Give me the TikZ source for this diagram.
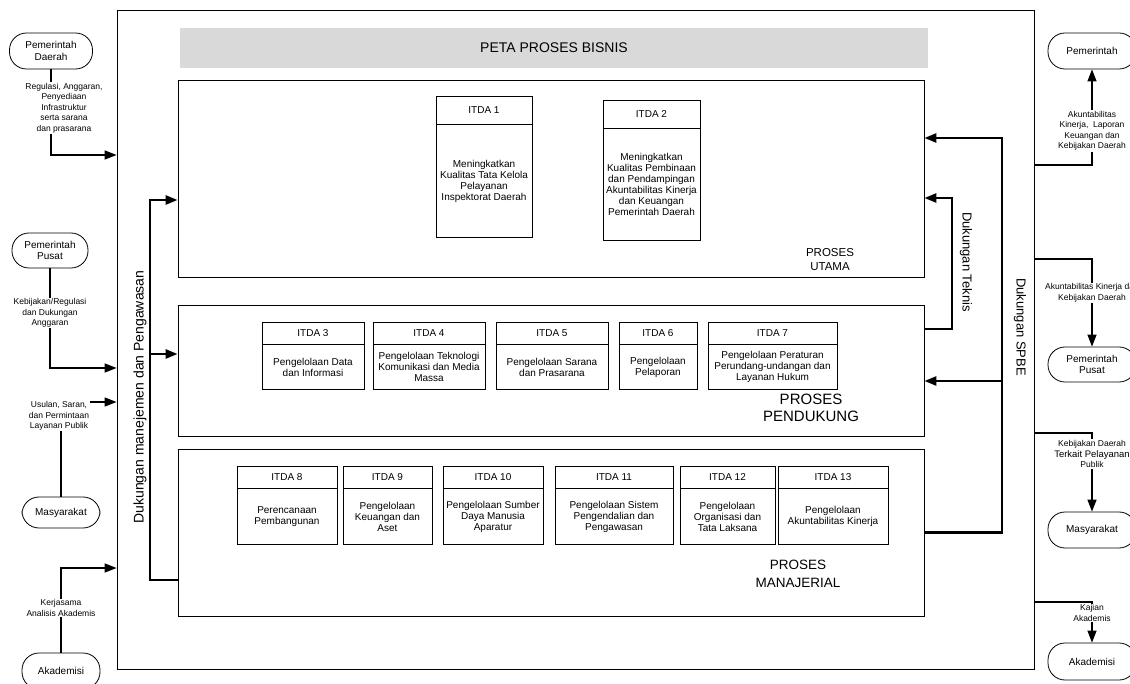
\documentclass[tikz,border=0pt]{standalone}
\usepackage{fontspec}
\setmainfont{Liberation Sans}
\usetikzlibrary{arrows.meta,positioning}

\begin{document}
\begin{tikzpicture}[x=1pt,y=-1pt,>={Triangle[length=12pt,width=9pt]},
 font=\fontsize{10}{11}\selectfont,
 frame/.style={draw,line width=0.8pt,inner sep=0pt},
 proc/.style={draw,line width=0.8pt,inner sep=0pt},
 hd/.style={draw,line width=0.7pt,inner sep=1pt,align=center},
 bd/.style={draw,line width=0.7pt,inner sep=1pt,align=center},
 term/.style={draw,line width=0.8pt,rounded corners=17pt,align=center,inner sep=1pt,font=\fontsize{10}{11.5}\selectfont},
 lbl/.style={fill=white,align=center,inner sep=1pt,font=\fontsize{8.5}{10.5}\selectfont},
 link/.style={line width=1.4pt,->},
 spine/.style={line width=2.6pt,->},
 vtxt/.style={font=\fontsize{13}{15}\selectfont}]
\useasboundingbox (0,0) rectangle (1130,684);
\node[frame,minimum width=917pt,minimum height=659pt] (frame) at (575.5,339.5) {};
\node[fill=black!15,minimum width=748pt,minimum height=40pt,font=\fontsize{14}{16}\selectfont] (title) at (554,48) {PETA PROSES BISNIS};
\node[proc,minimum width=746pt,minimum height=197pt] (utama) at (551,178.5) {};
\node[proc,minimum width=746pt,minimum height=131pt] (pendukung) at (551,370.5) {};
\node[proc,minimum width=746pt,minimum height=167pt] (manajerial) at (551,532.5) {};
\node[font=\fontsize{11.5}{14}\selectfont,align=center] (lutama) at (830,260) {PROSES\\UTAMA};
\node[font=\fontsize{15}{17}\selectfont,align=center] (lpendukung) at (811,408) {PROSES\\PENDUKUNG};
\node[font=\fontsize{13.5}{18}\selectfont,align=center] (lmanajerial) at (798,574) {PROSES\\MANAJERIAL};
% proses utama
\node[hd,minimum width=96pt,minimum height=28pt] (h1) at (484,110) {ITDA 1};
\node[bd,minimum width=96pt,minimum height=113pt,below=0pt of h1] (b1) {Meningkatkan\\Kualitas Tata Kelola\\Pelayanan\\Inspektorat Daerah};
\node[hd,minimum width=97pt,minimum height=28pt] (h2) at (651.5,114) {ITDA 2};
\node[bd,minimum width=97pt,minimum height=112pt,below=0pt of h2] (b2) {Meningkatkan\\Kualitas Pembinaan\\dan Pendampingan\\Akuntabilitas Kinerja\\dan Keuangan\\Pemerintah Daerah};
% proses pendukung
\node[hd,minimum width=102pt,minimum height=22pt] (h3) at (313,333) {ITDA 3};
\node[bd,minimum width=102pt,minimum height=45pt,below=0pt of h3] (b3) {Pengelolaan Data\\dan Informasi};
\node[hd,minimum width=112pt,minimum height=22pt] (h4) at (429,333) {ITDA 4};
\node[bd,minimum width=112pt,minimum height=45pt,below=0pt of h4] (b4) {Pengelolaan Teknologi\\Komunikasi dan Media\\Massa};
\node[hd,minimum width=112pt,minimum height=22pt] (h5) at (552,333) {ITDA 5};
\node[bd,minimum width=112pt,minimum height=45pt,below=0pt of h5] (b5) {Pengelolaan Sarana\\dan Prasarana};
\node[hd,minimum width=78pt,minimum height=22pt] (h6) at (658,333) {ITDA 6};
\node[bd,minimum width=78pt,minimum height=45pt,below=0pt of h6] (b6) {Pengelolaan\\Pelaporan};
\node[hd,minimum width=129pt,minimum height=22pt] (h7) at (772.5,333) {ITDA 7};
\node[bd,minimum width=129pt,minimum height=45pt,below=0pt of h7] (b7) {Pengelolaan Peraturan\\Perundang-undangan dan\\Layanan Hukum};
% proses manajerial
\node[hd,minimum width=100pt,minimum height=22pt] (h8) at (287,477) {ITDA 8};
\node[bd,minimum width=100pt,minimum height=56pt,below=0pt of h8] (b8) {Perencanaan\\Pembangunan};
\node[hd,minimum width=89pt,minimum height=22pt] (h9) at (387.5,477) {ITDA 9};
\node[bd,minimum width=89pt,minimum height=56pt,below=0pt of h9] (b9) {Pengelolaan\\Keuangan dan\\Aset};
\node[hd,minimum width=100pt,minimum height=22pt] (h10) at (493,477) {ITDA 10};
\node[bd,minimum width=100pt,minimum height=56pt,below=0pt of h10] (b10) {Pengelolaan Sumber\\Daya Manusia\\Aparatur};
\node[hd,minimum width=118pt,minimum height=22pt] (h11) at (614,477) {ITDA 11};
\node[bd,minimum width=118pt,minimum height=56pt,below=0pt of h11] (b11) {Pengelolaan Sistem\\Pengendalian dan\\Pengawasan};
\node[hd,minimum width=95pt,minimum height=22pt] (h12) at (727.5,477) {ITDA 12};
\node[bd,minimum width=95pt,minimum height=56pt,below=0pt of h12] (b12) {Pengelolaan\\Organisasi dan\\Tata Laksana};
\node[hd,minimum width=110pt,minimum height=22pt] (h13) at (833,477) {ITDA 13};
\node[bd,minimum width=110pt,minimum height=56pt,below=0pt of h13] (b13) {Pengelolaan\\Akuntabilitas Kinerja};
% dukungan
\coordinate (mjtop) at (150,200);
\coordinate (mjmid) at (150,354);
\coordinate (tktop) at (952,198);
\coordinate (sptop) at (1002,138);
\coordinate (spmid) at (1002,381);
\draw[spine] ([yshift=-47.5pt]manajerial.west) -| (mjtop) -- (utama.west |- mjtop);
\draw[spine] (mjmid) -- (pendukung.west |- mjmid);
\draw[spine] ([yshift=41.5pt]pendukung.east) -| (tktop) -- (utama.east |- tktop);
\draw[spine] (manajerial.east) -| (sptop) -- (utama.east |- sptop);
\draw[spine] (spmid) -- (pendukung.east |- spmid);
\node[vtxt,font=\fontsize{14}{16}\selectfont,rotate=90] (ldmp) at (140,397) {Dukungan manejemen dan Pengawasan};
\node[vtxt,rotate=-90] (ltek) at (966,262) {Dukungan Teknis};
\node[vtxt,rotate=-90] (lspbe) at (1020,327) {Dukungan SPBE};
% pihak luar, kiri
\node[term,minimum width=83pt,minimum height=36pt] (pda) at (51,51) {Pemerintah\\Daerah};
\node[term,minimum width=76pt,minimum height=35pt] (ppu) at (50,250.5) {Pemerintah\\Pusat};
\node[term,minimum width=78pt,minimum height=31pt] (msy) at (61,512.5) {Masyarakat};
\node[term,minimum width=78pt,minimum height=36pt] (akd) at (61,671) {Akademisi};
\draw[link] (pda.south) |- (frame.west |- 0,155);
\draw[link] (ppu.south) |- (frame.west |- 0,368);
\draw[link] (msy.north) |- (frame.west |- 0,402);
\draw[link] (akd.north) |- (frame.west |- 0,568);
\node[lbl] (lpda) at (64,108) {Regulasi, Anggaran,\\Penyediaan\\Infrastruktur\\serta sarana\\dan prasarana};
\node[lbl] (lppu) at (50,313) {Kebijakan/Regulasi\\dan Dukungan\\Anggaran};
\node[lbl] (lmsy) at (59,416) {Usulan, Saran,\\dan Permintaan\\Layanan Publik};
\node[lbl] (lakd) at (61,608) {Kerjasama\\Analisis Akademis};
% pihak luar, kanan
\node[term,minimum width=88pt,minimum height=36pt] (rpm) at (1092,51) {Pemerintah};
\node[term,minimum width=88pt,minimum height=35pt] (rpp) at (1092,364.5) {Pemerintah\\Pusat};
\node[term,minimum width=88pt,minimum height=36pt] (rms) at (1092,530) {Masyarakat};
\node[term,minimum width=88pt,minimum height=37pt] (rak) at (1092,661.5) {Akademisi};
\draw[link] (frame.east |- 0,165) -| (rpm.south);
\draw[link] (frame.east |- 0,259) -| (rpp.north);
\draw[link] (frame.east |- 0,433) -| (rms.north);
\draw[link] (frame.east |- 0,602) -| (rak.north);
\node[lbl] (lrpm) at (1092,131) {Akuntabilitas\\Kinerja,\ \ Laporan\\Keuangan dan\\Kebijakan Daerah};
\node[lbl] (lrpp) at (1092,293) {Akuntabilitas Kinerja dan\\Kebijakan Daerah};
\node[lbl] (lrms) at (1092,454) {Kebijakan Daerah\\{\fontsize{9.5}{10.5}\selectfont Terkait Pelayanan}\\Publik};
\node[lbl] (lrak) at (1092,613) {Kajian\\Akademis};
\end{tikzpicture}
\end{document}
